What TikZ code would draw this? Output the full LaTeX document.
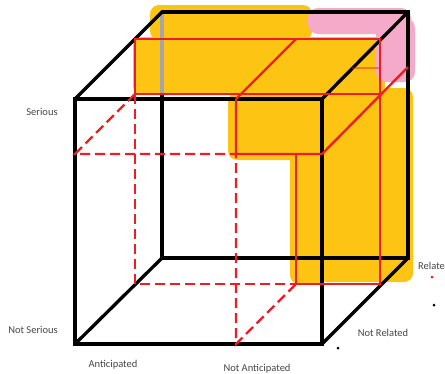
\documentclass[tikz,border=0pt]{standalone}
\usepackage{fontspec}
\setsansfont{Carlito}
\definecolor{hlyellow}{RGB}{253,196,20}
\definecolor{hlpink}{RGB}{244,170,200}
\definecolor{splitred}{RGB}{236,30,36}
\definecolor{labelgrey}{RGB}{70,70,70}

\begin{document}
\begin{tikzpicture}[x=1pt,y=-1pt,
              edge/.style={line width=3.3pt,line cap=round},
              split/.style={splitred,line width=2.4pt},
              hidden/.style={split,dash pattern=on 10pt off 5pt},
              marker/.style={rounded corners=9pt,fill=hlyellow,draw=none},
              axislabel/.style={font=\sffamily\fontsize{10.5}{12}\selectfont,text=labelgrey,inner sep=0pt}]
  \clip (0,0) rectangle (445,373);
  % cube corners: front, back and the middle plane
  \coordinate (FTL) at (75,99);   \coordinate (FTR) at (322,99);
  \coordinate (FBL) at (75,344);  \coordinate (FBR) at (322,344);
  \coordinate (BTL) at (162,12);  \coordinate (BTR) at (408,12);
  \coordinate (BBL) at (162,258); \coordinate (BBR) at (408,258);
  \coordinate (BML) at (162,96);
  \coordinate (MTL) at (135,39);  \coordinate (MTR) at (380,39);
  \coordinate (MBL) at (135,284); \coordinate (MBR) at (380,284);
  % split points
  \coordinate (FAT) at (236,99);  \coordinate (FAS) at (236,154);
  \coordinate (FAB) at (236,344);
  \coordinate (FSL) at (75,154);  \coordinate (FSR) at (322,154);
  \coordinate (MAT) at (296,39);  \coordinate (MAS) at (296,155);
  \coordinate (MAB) at (296,284);
  \coordinate (MSL) at (135,94);  \coordinate (MSR) at (380,94);
  \coordinate (BSR) at (408,67);
  \coordinate (FNL) at (352,68);  \coordinate (FNR) at (380,68);

  % highlighter marks
  \fill[marker] (150,5) rectangle (312,40);
  \fill[marker] (133,37) rectangle (385,95);
  \fill[marker] (228,92) rectangle (322,160);
  \fill[marker] (318,88) rectangle (413,282);
  \fill[marker] (290,150) rectangle (326,284);
  \fill[hlpink,rounded corners=10pt] (308,8) rectangle (411,34);
  \fill[hlpink,rounded corners=10pt] (376,18) rectangle (415,82);

  % black cube
  \draw[edge,black!35] (BTL) -- (BML);
  \draw[edge] (BML) -- (BBL) -- (BBR) -- (BTR) -- (BTL);
  \draw[edge] (FTL) -- (BTL);
  \draw[edge] (FTR) -- (BTR);
  \draw[edge] (FBL) -- (BBL);
  \draw[edge] (FBR) -- (BBR);
  \draw[edge] (FTL) -- (FTR) -- (FBR) -- (FBL) -- cycle;

  % red splits, seen
  \draw[split] (MBL |- MSL) -- (MTL) -- (MTR) -- (MBR) -- (MAB);
  \draw[split] (MSL) -- (MSR);
  \draw[split] (FAT) -- (MAT);
  \draw[split] (FAT) -- (FAS) -- (FSR) -- (BSR);
  \draw[split] (MAS) -- (MAB);
  \draw[split,opacity=.45,line width=1.4pt] (FNL) -- (FNR);
  % red splits, hidden
  \draw[hidden] (MSL) -- (MBL) -- (MAB);
  \draw[hidden] (MSL) -- (FSL) -- (FAS) -- (FAB) -- (MAB);

  % labels
  \node[axislabel] (serious) at (42,112) {Serious};
  \node[axislabel] (notserious) at (33,330) {Not Serious};
  \node[axislabel] (anticipated) at (113,365) {Anticipated};
  \node[axislabel] (notanticipated) at (257,369) {Not Anticipated};
  \node[axislabel] (notrelated) at (383,333) {Not Related};
  \node[axislabel,anchor=west] (related) at (418,266) {Related};
  \fill[splitred] (432,277) circle (1.5pt);
  \fill[black] (434,305) circle (1.5pt);
  \fill[black] (338,348) circle (1.5pt);
\end{tikzpicture}
\end{document}
